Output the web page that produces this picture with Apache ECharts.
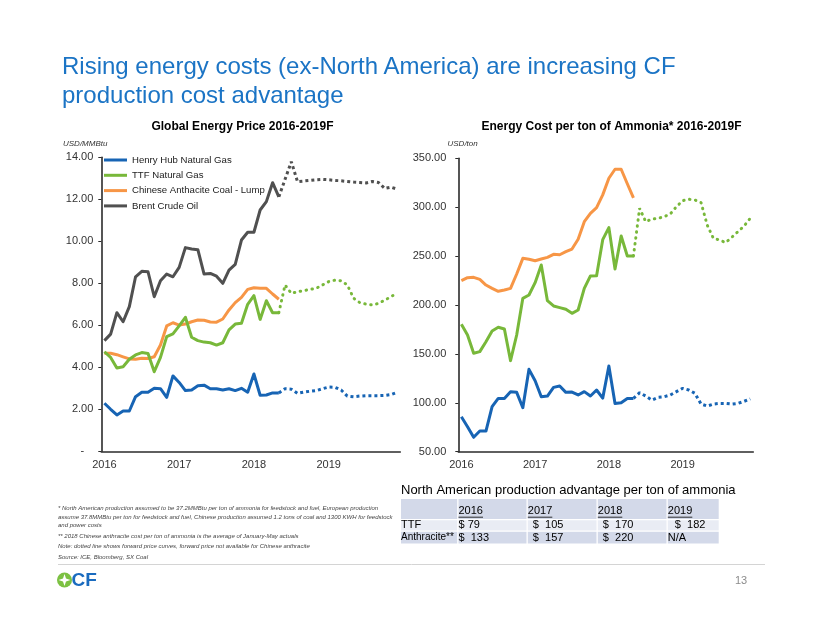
<!DOCTYPE html>
<html><head><meta charset="utf-8">
<script src="https://cdn.jsdelivr.net/npm/echarts/dist/echarts.min.js"></script>
<style>
html,body{margin:0;padding:0;background:#fff;}
#wrap{position:relative;width:822px;height:635px;overflow:hidden;font-family:"Liberation Sans",Arial,sans-serif;}
#chart{position:absolute;left:0;top:0;width:822px;height:635px;}
#title{position:absolute;left:62px;top:51px;font-size:24px;line-height:29px;color:#1b74c5;white-space:nowrap;}
</style></head>
<body><div id="wrap"><div id="chart"></div>
<div id="title">Rising energy costs (ex-North America) are increasing CF<br>production cost advantage</div>
</div>
<script>
// ---- categories ----
const years = ['2016', '2017', '2018', '2019'];
const monthNums = ['01','02','03','04','05','06','07','08','09','10','11','12'];
const months = years.flatMap(y => monthNums.map(m => y + '-' + m));
const forecastStart = 28; // May 2018 index, forecast curves begin here

// ---- Global Energy Price (USD/MMBtu) ----
const hhPrice = [2.29, 2.00, 1.73, 1.92, 1.92, 2.60, 2.81, 2.81, 3.00, 2.98, 2.57, 3.59, 3.28, 2.89, 2.92, 3.12, 3.15, 2.98, 2.98, 2.92, 2.98, 2.89, 3.00, 2.81, 3.68, 2.67, 2.68, 2.78, 2.78];
const hhPriceFwd = [2.78, 2.98, 2.96, 2.76, 2.82, 2.86, 2.89, 2.98, 3.06, 3.05, 2.92, 2.63, 2.60, 2.63, 2.65, 2.65, 2.65, 2.66, 2.70, 2.81];
const ttfPrice = [4.74, 4.47, 3.97, 4.03, 4.38, 4.59, 4.70, 4.66, 3.79, 4.47, 5.46, 5.59, 5.97, 6.38, 5.43, 5.27, 5.20, 5.17, 5.06, 5.17, 5.78, 6.06, 6.10, 7.00, 7.41, 6.28, 7.17, 6.60, 6.60];
const ttfPriceFwd = [6.60, 7.92, 7.52, 7.60, 7.65, 7.71, 7.76, 7.92, 8.08, 8.15, 8.12, 7.92, 7.29, 7.08, 7.01, 6.97, 7.04, 7.20, 7.36, 7.55];
const coalPrice = [4.67, 4.67, 4.60, 4.50, 4.40, 4.38, 4.43, 4.42, 4.50, 5.06, 5.97, 6.12, 6.01, 6.06, 6.17, 6.25, 6.24, 6.16, 6.15, 6.30, 6.73, 7.08, 7.33, 7.71, 7.79, 7.76, 7.76, 7.49, 7.24];
const brentPrice = [5.27, 5.58, 6.60, 6.17, 6.89, 8.31, 8.57, 8.55, 7.36, 8.12, 8.44, 8.31, 8.76, 9.70, 9.63, 9.60, 8.44, 8.47, 8.34, 8.00, 8.63, 8.90, 10.06, 10.43, 10.43, 11.49, 11.89, 12.79, 12.12];
const brentPriceFwd = [12.12, 12.95, 13.79, 12.84, 12.87, 12.90, 12.93, 12.95, 12.93, 12.90, 12.88, 12.85, 12.82, 12.80, 12.78, 12.85, 12.80, 12.52, 12.58, 12.48];

// ---- Energy cost per ton of ammonia (USD/ton) ----
const hhCost = [85.8, 75.6, 64.7, 71.1, 71.1, 96.0, 104.5, 104.5, 111.4, 110.7, 95.0, 134.2, 122.6, 106.2, 106.9, 115.8, 117.2, 110.7, 111.0, 108.0, 111.4, 106.9, 113.1, 104.8, 137.6, 99.4, 100.1, 104.5, 104.5];
const hhCostFwd = [104.5, 110.3, 106.9, 102.8, 105.6, 106.2, 108.0, 111.4, 114.8, 113.1, 109.7, 98.7, 96.7, 98.7, 99.4, 99.4, 98.7, 99.4, 101.5, 104.0];
const ttfCost = [180.2, 169.3, 150.6, 152.3, 162.5, 173.4, 177.2, 175.5, 143.1, 169.3, 206.8, 210.2, 222.8, 240.9, 204.4, 199.0, 197.3, 195.6, 191.5, 194.9, 217.0, 229.7, 230.0, 266.8, 279.1, 236.8, 270.6, 250.1, 250.1];
const ttfCostFwd = [250.1, 298.9, 285.2, 287.9, 288.6, 290.3, 293.1, 300.6, 306.7, 308.1, 307.4, 304.7, 281.8, 268.2, 266.5, 263.8, 269.2, 275.0, 280.8, 288.6];
const coalCost = [224.9, 227.9, 228.3, 226.2, 220.4, 217.0, 214.0, 215.3, 217.0, 231.7, 247.7, 246.7, 245.3, 247.0, 248.7, 251.8, 251.4, 254.5, 257.2, 267.2, 285.2, 293.7, 299.5, 312.6, 329.6, 338.8, 338.8, 324.0, 309.5];

// ---- table ----
const advYears = ['2016', '2017', '2018', '2019'];
const advTTF = [79, 105, 170, 182];
const advAnthracite = [133, 157, 220, null];

// ---- names ----
const seriesNames = ['Henry Hub Natural Gas', 'TTF Natural Gas', 'Chinese Anthacite Coal - Lump', 'Brent Crude Oil'];
const footnotes = [
  '* North American production assumed to be 37.2MMBtu per ton of ammonia for feedstock and fuel, European production',
  'assume 37.8MMBtu per ton for feedstock and fuel, Chinese production assumed 1.2 tons of coal and 1300 KWH for feedstock',
  'and power costs',
  '** 2018 Chinese anthracite cost per ton of ammonia is the average of January-May actuals',
  'Note: dotted line shows forward price curves, forward price not available for Chinese anthracite',
  'Source: ICE, Bloomberg, SX Coal'
];

const C_BLUE = '#1764b4', C_GREEN = '#78b83a', C_ORANGE = '#f79646', C_GREY = '#505050';
const FONT = '"Liberation Sans", Arial, sans-serif';
const fwd = arr => Array(forecastStart).fill(null).concat(arr);

function solid(name, data, color, g) {
  return { name, type: 'line', data, xAxisIndex: g, yAxisIndex: g, showSymbol: false, symbol: 'none',
    lineStyle: { color, width: 3, join: 'round' }, itemStyle: { color }, silent: true, z: 3 };
}
function dotted(name, data, color, g, round) {
  return { name, type: 'line', data: fwd(data), xAxisIndex: g, yAxisIndex: g, showSymbol: false, symbol: 'none',
    lineStyle: { color, width: 3, type: round ? [0.5, 5.5] : [3, 3], cap: round ? 'round' : 'butt' },
    itemStyle: { color }, silent: true, z: 2 };
}

const axisLine = { show: true, lineStyle: { color: '#2b2b2b', width: 1.6 } };
function xAx(g) {
  return { type: 'category', gridIndex: g, data: months, boundaryGap: true,
    axisLine, axisTick: { show: false }, splitLine: { show: false },
    axisLabel: { interval: 11, margin: 8, color: '#333', fontSize: 11, fontFamily: FONT, formatter: v => v.slice(0, 4) } };
}

const grids = [
  { left: 101.3, top: 157.3, width: 299, height: 294, containLabel: false, outerBoundsMode: 'none' },
  { left: 458.3, top: 158.3, width: 295, height: 293.4, containLabel: false, outerBoundsMode: 'none' }
];

const graphic = [];
function txt(x, y, text, style) {
  graphic.push({ type: 'text', x, y, silent: true,
    style: Object.assign({ text, fontFamily: FONT, fill: '#000', verticalAlign: 'middle', align: 'left' }, style) });
}
// chart subtitles & units
txt(242.5, 126.3, 'Global Energy Price 2016-2019F', { fontSize: 12, fontWeight: 'bold', align: 'center' });
txt(611.5, 126.3, 'Energy Cost per ton of Ammonia* 2016-2019F', { fontSize: 12, fontWeight: 'bold', align: 'center' });
txt(63, 143.5, 'USD/MMBtu', { fontSize: 8, fontStyle: 'italic', fill: '#333' });
txt(447.5, 143.5, 'USD/ton', { fontSize: 8, fontStyle: 'italic', fill: '#333' });

// table
txt(401, 490, 'North American production advantage per ton of ammonia', { fontSize: 13 });
const colX = [401, 458.5, 527.8, 597.8, 667.8, 720];
const rowsY = [[499, 519], [520.3, 530.6], [531.8, 543.5]];
const rowFill = ['#d3d9e9', '#e9ecf4', '#d3d9e9'];
rowsY.forEach((r, ri) => {
  for (let c = 0; c < 5; c++) {
    graphic.push({ type: 'rect', silent: true, z: -1,
      shape: { x: colX[c], y: r[0], width: colX[c + 1] - colX[c] - 1.3, height: r[1] - r[0] },
      style: { fill: rowFill[ri] } });
  }
});
advYears.forEach((y, i) => {
  txt(colX[i + 1], 511, y, { fontSize: 11 });
  graphic.push({ type: 'line', silent: true, shape: { x1: colX[i + 1], y1: 517.2, x2: colX[i + 1] + 24.5, y2: 517.2 },
    style: { stroke: '#000', lineWidth: 0.8 } });
});
txt(401, 525.3, 'TTF', { fontSize: 11 });
txt(401, 537.5, 'Anthracite**', { fontSize: 10 });
const valOff = [0, 5, 5, 7];
advTTF.forEach((v, i) => txt(colX[i + 1] + valOff[i], 525.3, (i === 0 ? '$ ' : '$  ') + v, { fontSize: 11 }));
advAnthracite.forEach((v, i) => txt(colX[i + 1] + (v == null ? 0 : valOff[i]), 537.5, v == null ? 'N/A' : '$  ' + v, { fontSize: 11 }));

// footnotes
const fnY = [508, 517.2, 525.6, 536.6, 546.6, 557];
footnotes.forEach((f, i) => txt(58, fnY[i], f, { fontSize: 6, fontStyle: 'italic', fill: '#444' }));

// footer
graphic.push({ type: 'line', silent: true, shape: { x1: 58, y1: 564.5, x2: 765, y2: 564.5 }, style: { stroke: '#d4d4d4', lineWidth: 1 } });
graphic.push({ type: 'circle', silent: true, shape: { cx: 64.5, cy: 580, r: 7.5 }, style: { fill: '#7cc142' } });
graphic.push({ type: 'polygon', silent: true, shape: { points: [[64.5, 574], [66, 578.5], [70.5, 580], [66, 581.5], [64.5, 586], [63, 581.5], [58.5, 580], [63, 578.5]] }, style: { fill: '#fff' } });
txt(71.5, 580.5, 'CF', { fontSize: 19, fontWeight: 'bold', fill: '#1a6bbf' });
txt(735, 581, '13', { fontSize: 11, fill: '#8c8c8c' });

const option = {
  animation: false,
  backgroundColor: '#fff',
  grid: grids,
  xAxis: [xAx(0), xAx(1)],
  yAxis: [
    { type: 'value', gridIndex: 0, min: 0, max: 14, interval: 2, axisLine, splitLine: { show: false },
      axisTick: { show: true, inside: false, length: 3, lineStyle: { color: '#2b2b2b', width: 1 } },
      axisLabel: { margin: 8, color: '#333', fontSize: 11, fontFamily: FONT, formatter: v => v === 0 ? '-   ' : v.toFixed(2) } },
    { type: 'value', gridIndex: 1, min: 50, max: 350, interval: 50, axisLine, splitLine: { show: false },
      axisTick: { show: true, inside: false, length: 3, lineStyle: { color: '#2b2b2b', width: 1 } },
      axisLabel: { margin: 12, color: '#333', fontSize: 11, fontFamily: FONT, formatter: v => v.toFixed(2) } }
  ],
  legend: {
    data: seriesNames, orient: 'vertical', left: 104, top: 154, itemWidth: 23, itemHeight: 3, itemGap: 3.3,
    icon: 'rect', selectedMode: false, padding: 0,
    textStyle: { fontSize: 9.6, fontFamily: FONT, color: '#222', lineHeight: 12 }
  },
  series: [
    solid(seriesNames[3], brentPrice, C_GREY, 0),
    dotted('Brent fwd', brentPriceFwd, C_GREY, 0, false),
    solid(seriesNames[2], coalPrice, C_ORANGE, 0),
    solid(seriesNames[1], ttfPrice, C_GREEN, 0),
    dotted('TTF fwd', ttfPriceFwd, C_GREEN, 0, true),
    solid(seriesNames[0], hhPrice, C_BLUE, 0),
    dotted('HH fwd', hhPriceFwd, C_BLUE, 0, false),
    solid('Chinese cost', coalCost, C_ORANGE, 1),
    solid('TTF cost', ttfCost, C_GREEN, 1),
    dotted('TTF cost fwd', ttfCostFwd, C_GREEN, 1, true),
    solid('HH cost', hhCost, C_BLUE, 1),
    dotted('HH cost fwd', hhCostFwd, C_BLUE, 1, false)
  ],
  graphic
};
const chart = echarts.init(document.getElementById('chart'), null, { renderer: 'canvas' });
chart.setOption(option);
</script>
</body></html>
